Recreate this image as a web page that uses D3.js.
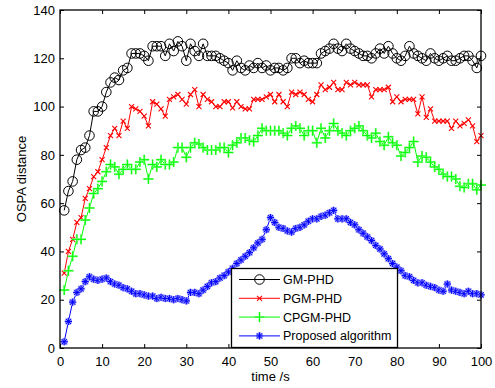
<!DOCTYPE html>
<html><head><meta charset="utf-8">
<script src="https://cdn.jsdelivr.net/npm/d3@7/dist/d3.min.js"></script>
<style>body{margin:0;background:#fff}svg{display:block}text{font-family:"Liberation Sans",Arial,sans-serif}</style>
</head><body><svg id="c" width="495" height="388"></svg>
<script>
const times = d3.range(1, 101);
const gmPHD = [57,65,69,78,82,83,88,98,98,100,106,110,112,111,115,116,122,122,122,121,119,125,125,125,121,126,123,127,125,119,126,123,121,126,121,121,121,120,119,118,115,119,116,115,117,116,118,116,117,115,116,116,115,116,120,120,118,119,118,118,118,122,123,124,126,124,123,126,124,123,122,121,121,120,122,124,122,125,122,120,119,121,125,122,121,120,119,122,120,119,120,121,119,119,120,121,121,119,116,121];
const pgmPHD = [31,40,45,52,54,62,66,71,73,78,83,88,91,88,94,91,100,99,98,96,92,102,101,99,96,103,104,105,103,101,105,107,100,105,103,102,100,100,102,102,99.5,102,100,99,99,103,103,103,104,105,102,105,102,100,106,105,106,105,103,102,105,109,107,108,110,107,107,110,109,110,109,109,109,104,107,107,107,108,102,104,102,103,103,103,97,104,95.5,99,94,94,94,94,91,94,92,93,94.5,92,85.5,88];
const cpgmPHD = [24,32,38,45,45,53,58,64,66,69,73,76,75,72,74,76,74,74,77,78,70,76,75,78,76,76,77,83,83,79,83,85,84.5,83,82,82,82,83,83,81,84,85,87,87,86,85.5,88,91,90,90,90,90,89,88,91,92,91,88,90,90,85,91,87,90,93,90,89,88,90,91,92,90,88,87,89,85.5,84,87.5,85,84,79.5,81,83,85.5,77,79.5,79,77,75,74,72,71,71,70,67,66.5,68,68,65.5,67.5];
const proposed = [2.6,11,19,23,24.5,27.5,29.5,28.5,28,28.5,29,27.5,26.5,26,25,24.5,23.5,22.5,22.5,22,21.5,21.5,20.5,21,20.5,20.5,20,20.5,20,19.5,23,23,22.5,24,25.5,27,27.5,29,30,31.5,33,35,36.5,38,39.5,41.5,43.5,45,49,54,52,50,49.5,48.5,48,49.5,50,51,52.5,53.5,53.5,54.5,55,56,57,53.5,53.5,53.5,52,51,49,47.5,46,44.5,42.5,41,39,37,35,33.5,32,30,29.5,28,27,27,26,25.5,25,24,23.5,26.5,24,23.5,23,22.5,23.5,22.5,22.5,22];
const seriesNames = ["GM-PHD","PGM-PHD","CPGM-PHD","Proposed algorithm"];
const seriesColors = ["#000000","#ff0000","#00ff00","#0000ff"];
const seriesMarkers = ["circle","x","plus","star"];
const xTicks = [0,10,20,30,40,50,60,70,80,90,100];
const yTicks = [0,20,40,60,80,100,120,140];

const svg = d3.select("#c");
const L=60, T=10, R=481, B=348;
const x = d3.scaleLinear().domain([0,100]).range([L,R]);
const y = d3.scaleLinear().domain([0,140]).range([B,T]);

function marker(g, type, color){
  if(type==="circle"){
    g.append("circle").attr("r",4.8).attr("fill","none").attr("stroke",color).attr("stroke-width",1);
  } else if(type==="x"){
    g.append("path").attr("d","M-2.5,-2.5L2.5,2.5M-2.5,2.5L2.5,-2.5").attr("stroke",color).attr("stroke-width",1.1).attr("fill","none");
  } else if(type==="plus"){
    g.append("path").attr("d","M-5,0L5,0M0,-5L0,5").attr("stroke","#88ff88").attr("stroke-width",2).attr("fill","none");
    g.append("path").attr("d","M-5,0L5,0M0,-5L0,5").attr("stroke",color).attr("stroke-width",1).attr("fill","none");
  } else {
    const d="M-3.6,0L3.6,0M0,-3.6L0,3.6M-2.6,-2.6L2.6,2.6M-2.6,2.6L2.6,-2.6";
    g.append("path").attr("d",d).attr("stroke","#8f8fff").attr("stroke-width",2.4).attr("fill","none");
    g.append("path").attr("d",d).attr("stroke",color).attr("stroke-width",1).attr("fill","none");
  }
}

// axes
const xAxisB = d3.axisBottom(x).tickValues(xTicks).tickSize(-4).tickPadding(9);
const yAxisL = d3.axisLeft(y).tickValues(yTicks).tickSize(-4).tickPadding(5);
const gx = svg.append("g").attr("transform",`translate(0,${B})`).call(xAxisB);
const gy = svg.append("g").attr("transform",`translate(${L},0)`).call(yAxisL);
const gxt = svg.append("g").attr("transform",`translate(0,${T})`).call(d3.axisTop(x).tickValues(xTicks).tickSize(-4).tickFormat(""));
const gyr = svg.append("g").attr("transform",`translate(${R},0)`).call(d3.axisRight(y).tickValues(yTicks).tickSize(-4).tickFormat(""));
[gx,gy,gxt,gyr].forEach(g=>{
  g.select(".domain").remove();
  g.selectAll("line").attr("stroke","#000");
  g.selectAll("text").attr("font-size","13px").attr("fill","#000").attr("font-family","Liberation Sans, Arial, sans-serif");
});

const allData = [gmPHD,pgmPHD,cpgmPHD,proposed];
const line = d3.line().x((d,i)=>x(times[i])).y(d=>y(d));
allData.forEach((vals,k)=>{
  svg.append("path").datum(vals).attr("d",line).attr("fill","none").attr("stroke",seriesColors[k]).attr("stroke-width",1);
  const mg = svg.append("g");
  vals.forEach((v,i)=>{
    const g = mg.append("g").attr("transform",`translate(${x(times[i])},${y(v)})`);
    marker(g, seriesMarkers[k], seriesColors[k]);
  });
});

// frame
svg.append("rect").attr("x",L).attr("y",T).attr("width",R-L).attr("height",B-T).attr("fill","none").attr("stroke","#000").attr("stroke-width",1.3);

// labels
svg.append("text").attr("x",(L+R)/2).attr("y",381).attr("text-anchor","middle").attr("font-size","13px").text("time /s");
svg.append("text").attr("transform",`translate(25.5,${(T+B)/2}) rotate(-90)`).attr("text-anchor","middle").attr("font-size","13px").text("OSPA distance");

// legend
const lg = svg.append("g");
lg.append("rect").attr("x",231.5).attr("y",268.5).attr("width",166).attr("height",79).attr("fill","#fff").attr("stroke","#000").attr("stroke-width",1.3);
seriesNames.forEach((name,k)=>{
  const cy = 279.5 + k*18.8;
  lg.append("line").attr("x1",239).attr("x2",280).attr("y1",cy).attr("y2",cy).attr("stroke",seriesColors[k]).attr("stroke-width",1);
  const g = lg.append("g").attr("transform",`translate(259.5,${cy})`);
  marker(g, seriesMarkers[k], seriesColors[k]);
  lg.append("text").attr("x",283).attr("y",cy+4.5).attr("font-size","12.5px").text(name);
});
</script></body></html>
